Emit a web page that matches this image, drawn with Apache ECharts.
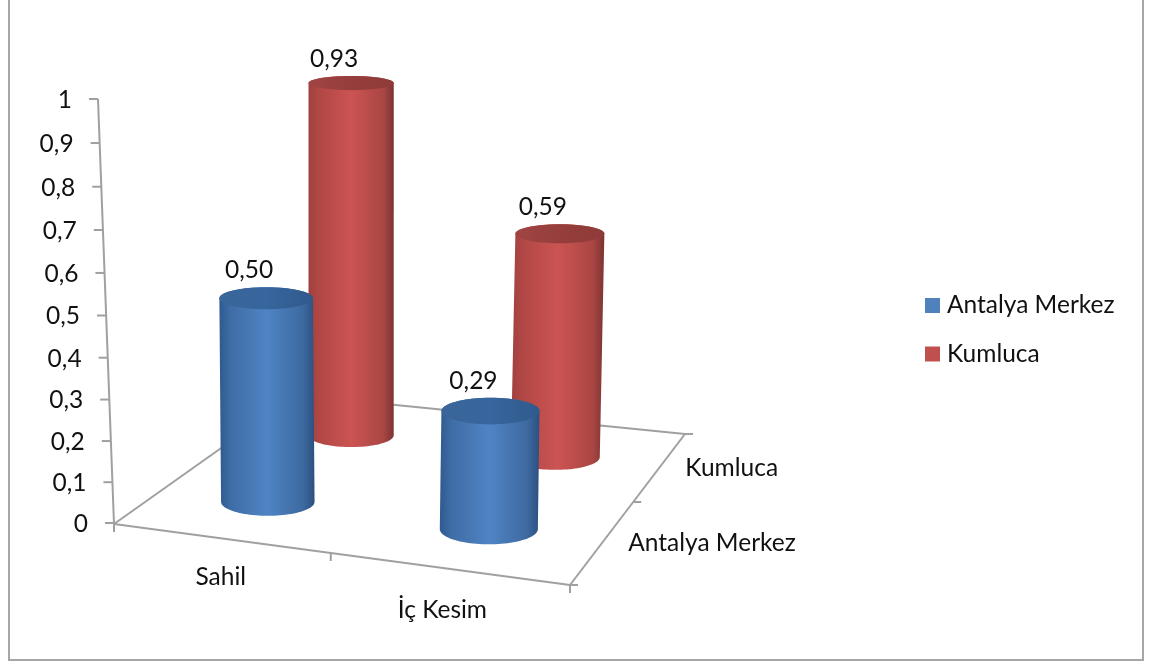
<!DOCTYPE html>
<html><head><meta charset="utf-8">
<style>html,body{margin:0;padding:0;background:#fff}#c{width:1154px;height:664px}</style>
<script src="https://cdn.jsdelivr.net/npm/echarts@6/dist/echarts.min.js"></script>
</head><body><div id="c"></div>
<script>
const categories = ['Sahil', 'İç Kesim'];
const depthCategories = ['Antalya Merkez', 'Kumluca'];
const antalyaMerkez = [0.50, 0.29];
const kumluca = [0.93, 0.59];
const valueTicks = [0, 0.1, 0.2, 0.3, 0.4, 0.5, 0.6, 0.7, 0.8, 0.9, 1];
const valueTickLabels = ['0', '0,1', '0,2', '0,3', '0,4', '0,5', '0,6', '0,7', '0,8', '0,9', '1'];

const FONT = 'Lato, Carlito, Calibri, sans-serif';
const FS = 24.5;
const AXIS = '#a0a0a0';
// floor plane projection: unit square -> picture
const Q = [[114, 524], [570, 585], [685, 434], [296, 395]];
const DEPTH_HEIGHT = [0.96, 0.893];
const H = (function () {
  const [p0, p1, p2, p3] = Q;
  const dx1 = p1[0] - p2[0], dx2 = p3[0] - p2[0], sx = p0[0] - p1[0] + p2[0] - p3[0];
  const dy1 = p1[1] - p2[1], dy2 = p3[1] - p2[1], sy = p0[1] - p1[1] + p2[1] - p3[1];
  const den = dx1 * dy2 - dx2 * dy1;
  const g = (sx * dy2 - dx2 * sy) / den, h = (dx1 * sy - sx * dy1) / den;
  return { a: p1[0] - p0[0] + g * p1[0], b: p3[0] - p0[0] + h * p3[0], c: p0[0],
           d: p1[1] - p0[1] + g * p1[1], e: p3[1] - p0[1] + h * p3[1], f: p0[1], g, h };
})();
function floor(u, v) {
  const w = H.g * u + H.h * v + 1;
  return [(H.a * u + H.b * v + H.c) / w, (H.d * u + H.e * v + H.f) / w, 1 / w];
}
const line = (x1, y1, x2, y2) => ({ type: 'line', shape: { x1, y1, x2, y2 }, style: { stroke: AXIS, lineWidth: 2 }, silent: true });
const txt = (text, x, y, align) => ({ type: 'text', style: { text, x, y, align: align || 'center', verticalAlign: 'middle', font: FS + 'px ' + FONT, fill: '#111' }, silent: true });

function renderAxes(params, api) {
  const sys = params.coordSys, out = [];
  const y0 = api.coord([0, 0])[1], y1 = api.coord([0, 1])[1];
  const slant = v => Q[0][0] - 16 * v;
  // the value axis recedes a little: ticks are foreshortened towards the bottom
  const tickY = t => {
    const f = (y0 - api.coord([0, t])[1]) / (y0 - y1);
    return y0 - (y0 - y1) * f * (1 - 0.0416) / (1 - 0.0416 * f) ;
  };
  out.push(line(slant(0), y0 + 1, slant(1), y1));
  valueTicks.forEach((t, i) => {
    const y = tickY(t), x = slant(t);
    out.push(line(x - 9, y, x, y));
    out.push(txt(valueTickLabels[i], x - 26, y + 1, 'right'));
  });
  out.push(line(Q[0][0], Q[0][1], Q[1][0], Q[1][1]));
  out.push(line(Q[1][0], Q[1][1], Q[2][0], Q[2][1]));
  out.push(line(Q[2][0], Q[2][1], Q[3][0], Q[3][1]));
  out.push(line(Q[3][0], Q[3][1], Q[0][0], Q[0][1]));
  [0, 0.5, 1].forEach(u => { const p = floor(u, 0); out.push(line(p[0], p[1], p[0], p[1] + 8)); });
  [0, 0.5, 1].forEach(v => { const p = floor(1, v); out.push(line(p[0], p[1], p[0] + 8, p[1])); });
  categories.forEach((c, i) => {
    const px = api.coord([i, 0])[0];
    const p = floor((px - sys.x) / sys.width, 0);
    out.push(txt(c, p[0] + (i ? -5 : 1), p[1] + (i ? 42 : 39)));
  });
  depthCategories.forEach((c, i) => {
    const p = floor(1, (i + 0.5) / depthCategories.length);
    out.push(txt(c, p[0] + 25, p[1] + 2, 'left'));
  });
  return { type: 'group', children: out };
}

function cylinder(depth, colors) {
  return function (params, api) {
    const sys = params.coordSys;
    const cat = api.value(0), val = api.value(1);
    const c = api.coord([cat, val]), z = api.coord([cat, 0]);
    const b = floor((c[0] - sys.x) / sys.width + 0.006 * cat, (depth + 0.5) / depthCategories.length);
    const rx = 48 * b[2];
    const h = (z[1] - c[1]) * DEPTH_HEIGHT[depth];
    const bx = b[0], by = b[1] + 2;
    const tx = bx + (bx - 350) * 0.0001 * h, ty = by - h;
    const ryAt = y => rx * (0.14 + 0.00032 * y);
    const rb = ryAt(by), rt = ryAt(ty);
    const pts = [];
    for (let i = 0; i <= 48; i++) { const a = Math.PI * i / 48; pts.push([tx - rx * Math.cos(a), ty - rt * Math.sin(a)]); }
    for (let i = 0; i <= 48; i++) { const a = Math.PI * i / 48; pts.push([bx + rx * Math.cos(a), by + rb * Math.sin(a)]); }
    const body = new echarts.graphic.LinearGradient(0, 0, 1, 0, colors.body);
    const cap = new echarts.graphic.LinearGradient(0, 0, 1, 0, colors.cap);
    return { type: 'group', children: [
      { type: 'polygon', shape: { points: pts }, style: { fill: body } },
      { type: 'ellipse', shape: { cx: tx, cy: ty, rx, ry: rt }, style: { fill: cap } },
      { type: 'text', style: { text: val.toFixed(2).replace('.', ','), x: tx - 17, y: ty - rt - 17, align: 'center', verticalAlign: 'middle', font: FS + 'px ' + FONT, fill: '#111' } }
    ] };
  };
}
const BLUE = {
  body: [{ offset: 0, color: '#2f5a8f' }, { offset: 0.12, color: '#3f6da6' }, { offset: 0.5, color: '#4f84c4' }, { offset: 0.88, color: '#3d69a0' }, { offset: 1, color: '#2c5080' }],
  cap: [{ offset: 0, color: '#3a6699' }, { offset: 0.5, color: '#37659d' }, { offset: 1, color: '#2f5a8c' }]
};
const RED = {
  body: [{ offset: 0, color: '#a0403e' }, { offset: 0.12, color: '#b04745' }, { offset: 0.5, color: '#cc5452' }, { offset: 0.88, color: '#a94644' }, { offset: 1, color: '#7c3331' }],
  cap: [{ offset: 0, color: '#a04543' }, { offset: 0.5, color: '#953e3c' }, { offset: 1, color: '#8f3b39' }]
};

const chart = echarts.init(document.getElementById('c'), null, { renderer: 'canvas' });
chart.setOption({
  animation: false,
  backgroundColor: '#fff',
  grid: { left: 114, width: 456, top: 99, height: 424, containLabel: false },
  xAxis: { type: 'category', data: categories, show: false },
  yAxis: { type: 'value', min: 0, max: 1, interval: 0.1, show: false },
  legend: {
    orient: 'vertical', left: 925, top: 293, padding: 0, itemWidth: 15, itemHeight: 15, itemGap: 23.5, icon: 'rect',
    data: depthCategories,
    textStyle: { fontFamily: FONT, fontSize: FS, color: '#111', padding: [0, 0, 0, 2] }
  },
  graphic: [{ type: 'rect', shape: { x: 9, y: -6, width: 1134, height: 666 }, style: { fill: 'none', stroke: '#a6a6a6', lineWidth: 2 }, silent: true }],
  series: [
    { type: 'custom', name: 'axes', z: 1, silent: true, renderItem: renderAxes, data: [[0, 0]], encode: { x: 0, y: 1 }, clip: false },
    { type: 'custom', name: depthCategories[1], z: 2, itemStyle: { color: '#c0504d' }, renderItem: cylinder(1, RED), data: kumluca.map((v, i) => [i, v]), encode: { x: 0, y: 1 }, clip: false },
    { type: 'custom', name: depthCategories[0], z: 3, itemStyle: { color: '#4f81bd' }, renderItem: cylinder(0, BLUE), data: antalyaMerkez.map((v, i) => [i, v]), encode: { x: 0, y: 1 }, clip: false }
  ]
});
</script></body></html>
